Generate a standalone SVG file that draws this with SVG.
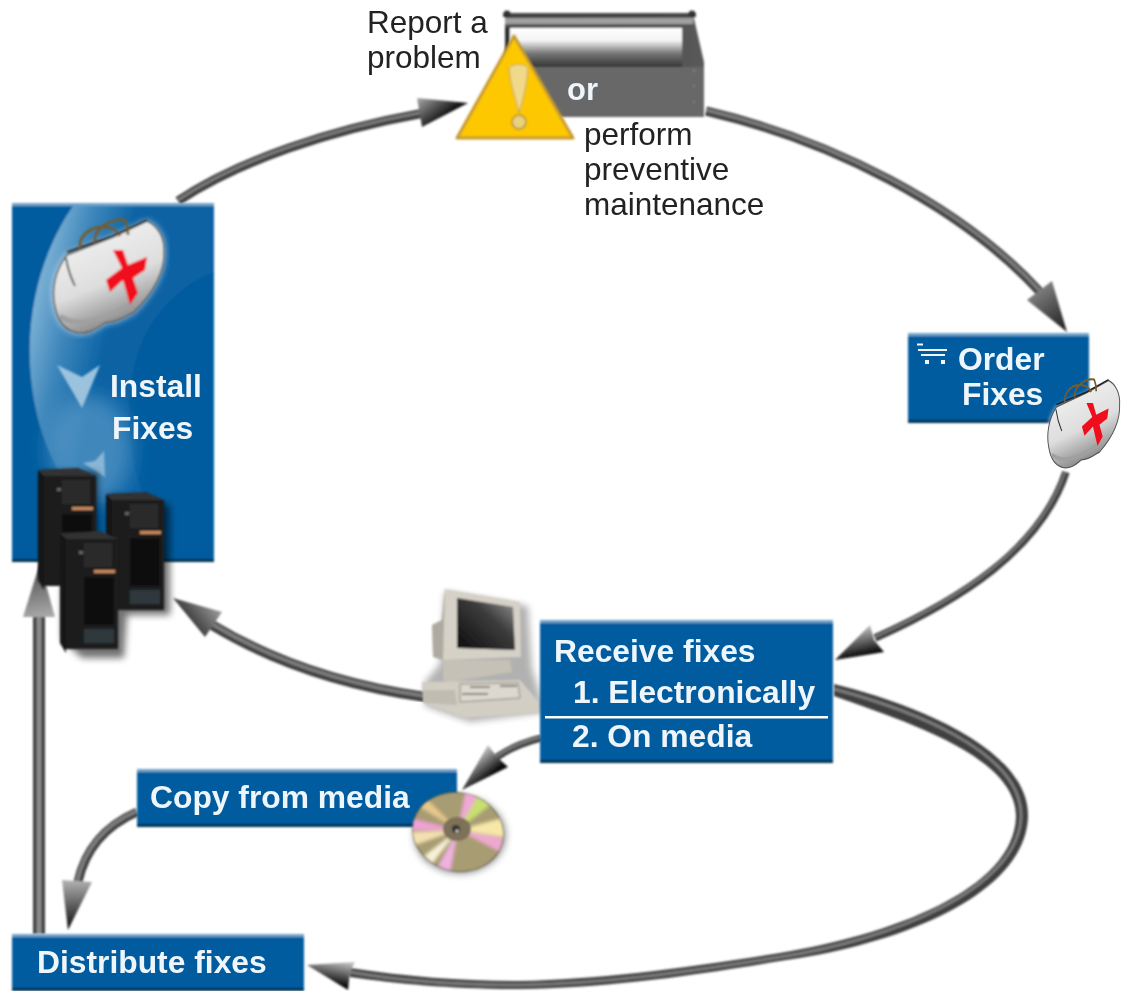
<svg xmlns="http://www.w3.org/2000/svg" xmlns:xlink="http://www.w3.org/1999/xlink" width="1121" height="991" viewBox="0 0 1121 991">
<style>
text{font-family:"Liberation Sans",Arial,sans-serif;font-size:31.5px}
.b{font-weight:bold;fill:#eef6fb;font-size:31.8px}
.k{fill:#222}
.box{fill:#005c9f}
.hi{fill:#6fa3c9}
.lo{fill:#04304f}
.sh{fill:none;stroke:#404040;stroke-linecap:butt}
.li{fill:none;stroke:#7c7c7c;stroke-linecap:butt}
</style>
<defs>
<filter id="soft" x="-5%" y="-5%" width="110%" height="110%"><feGaussianBlur stdDeviation="0.9"/></filter>
<filter id="conn" x="-5%" y="-5%" width="110%" height="110%"><feGaussianBlur stdDeviation="1.2"/></filter>
<filter id="txt" x="-5%" y="-20%" width="110%" height="140%"><feGaussianBlur stdDeviation="0.5"/></filter>
<filter id="blur1" x="-10%" y="-10%" width="120%" height="120%"><feGaussianBlur stdDeviation="1.8"/></filter>
<filter id="blur3" x="-30%" y="-30%" width="160%" height="160%"><feGaussianBlur stdDeviation="3.5"/></filter>
<filter id="blur8" x="-50%" y="-50%" width="200%" height="200%"><feGaussianBlur stdDeviation="10"/></filter>
<clipPath id="installclip"><rect x="12" y="203" width="202" height="359"/></clipPath>
<clipPath id="cdclip"><ellipse cx="458" cy="832" rx="45.500" ry="39" transform="rotate(12 458 832)"/></clipPath>
<linearGradient id="swoosh" gradientUnits="userSpaceOnUse" x1="28" y1="300" x2="112" y2="320"><stop offset="0" stop-color="#86b8d9"/><stop offset="0.5" stop-color="#3d86bb"/><stop offset="1" stop-color="#0a62a4"/></linearGradient>
<linearGradient id="open" x1="0" y1="0" x2="0" y2="1"><stop offset="0" stop-color="#fff"/><stop offset="0.32" stop-color="#f4f4f4"/><stop offset="0.65" stop-color="#777"/><stop offset="1" stop-color="#333"/></linearGradient>
<linearGradient id="post" x1="0" y1="0" x2="1" y2="0"><stop offset="0" stop-color="#2e2e2e"/><stop offset="1" stop-color="#5a5a5a"/></linearGradient>
<linearGradient id="screen" x1="0" y1="1" x2="1" y2="0"><stop offset="0" stop-color="#0c0c0c"/><stop offset="0.6" stop-color="#3c3c3c"/><stop offset="1" stop-color="#9a9a9a"/></linearGradient>
<linearGradient id="bagfill" x1="0.1" y1="0" x2="0.5" y2="1"><stop offset="0" stop-color="#f6f6f6"/><stop offset="0.6" stop-color="#dedede"/><stop offset="1" stop-color="#7e7e7e"/></linearGradient>
<linearGradient id="a1" gradientUnits="userSpaceOnUse" x1="418" y1="98" x2="436" y2="122"><stop offset="0" stop-color="#a8a8a8"/><stop offset="1" stop-color="#161616"/></linearGradient>
<linearGradient id="a2" gradientUnits="userSpaceOnUse" x1="1035" y1="288" x2="1066" y2="332"><stop offset="0" stop-color="#858585"/><stop offset="1" stop-color="#1c1c1c"/></linearGradient>
<linearGradient id="a3" gradientUnits="userSpaceOnUse" x1="870" y1="625" x2="876" y2="652"><stop offset="0" stop-color="#c4c4c4"/><stop offset="1" stop-color="#0c0c0c"/></linearGradient>
<linearGradient id="a4" gradientUnits="userSpaceOnUse" x1="350" y1="961" x2="345" y2="986"><stop offset="0" stop-color="#cfcfcf"/><stop offset="1" stop-color="#0c0c0c"/></linearGradient>
<linearGradient id="a5" gradientUnits="userSpaceOnUse" x1="222" y1="610" x2="190" y2="635"><stop offset="0" stop-color="#a0a0a0"/><stop offset="1" stop-color="#242424"/></linearGradient>
<linearGradient id="a6" gradientUnits="userSpaceOnUse" x1="486" y1="746" x2="502" y2="766"><stop offset="0" stop-color="#cfcfcf"/><stop offset="1" stop-color="#0c0c0c"/></linearGradient>
<linearGradient id="a7" gradientUnits="userSpaceOnUse" x1="70" y1="880" x2="72" y2="925"><stop offset="0" stop-color="#b4b4b4"/><stop offset="1" stop-color="#1c1c1c"/></linearGradient>
<linearGradient id="a8" gradientUnits="userSpaceOnUse" x1="30" y1="563" x2="40" y2="617"><stop offset="0" stop-color="#444"/><stop offset="1" stop-color="#a8a8a8"/></linearGradient>
<path id="bagshape" d="M55,307C51,290 55,270 67,255L113,237L147,221C158,226 165,238 164,252C165,270 155,292 133,313C125,316 120,322 105,323C95,330 88,334 78,333C65,331 58,322 55,307Z"/>
<g id="bag">
<use href="#bagshape" xlink:href="#bagshape" fill="#fff" filter="url(#blur3)" opacity="0.85"/>
<use href="#bagshape" xlink:href="#bagshape" fill="url(#bagfill)" stroke="#555" stroke-width="1.5"/>
<path d="M66,258C68,270 71,278 75,286" fill="none" stroke="#333" stroke-width="1.6"/>
<path d="M60,316C75,328 105,320 128,305" fill="none" stroke="#a0a0a0" stroke-width="5"/>
<path d="M67,252L113,236L147,220" fill="none" stroke="#222" stroke-width="2"/>
<path d="M80,249C78,235 92,226 105,227C115,228 118,232 120,236M95,243C93,228 112,218 125,220C128,226 128,230 128,235" fill="none" stroke="#7a5a28" stroke-width="2.6"/>
<path d="M113,250L123,250L128,265L147,257L145,270L133,278L138,293L130,305L123,280L110,292L106,280L122,268Z" fill="#f0101c"/>
</g>
<g id="tower">
<path d="M0,2L6,8V122L0,112Z" fill="#121212"/>
<path d="M0,2L40,0L58,8H6Z" fill="#333"/>
<rect x="6" y="8" width="52" height="110" fill="#1c1c1c"/>
<rect x="24" y="12" width="28" height="24" fill="#2a2a2a"/>
<rect x="19" y="20" width="4" height="3" fill="#666"/>
<rect x="34" y="39" width="21" height="3" fill="#c98a5e"/>
<rect x="24" y="46" width="30" height="48" fill="#0e0e0e"/>
<rect x="24" y="98" width="30" height="14" fill="#2f383c"/>
</g>
</defs>
<rect width="1121" height="991" fill="#fff"/>

<g id="connectors">
<g id="c1" filter="url(#conn)"><path class="sh" stroke-width="9" d="M178,201C240,160 330,130 424,113"/><path class="li" stroke-width="3" d="M178,200C240,159 330,129 424,112"/><polygon points="468,103 417,98 422,127" fill="url(#a1)"/></g>
<g id="c2" filter="url(#conn)"><path class="sh" stroke-width="9" d="M706,111C830,140 960,205 1040,292"/><path class="li" stroke-width="3.500" d="M706,110C830,139 960,204 1040,291"/><polygon points="1067,332 1027,300 1052,281" fill="url(#a2)"/></g>
<g id="c3" filter="url(#conn)"><path class="sh" stroke-width="7.500" d="M1066,472C1040,550 960,600 875,638"/><path class="li" stroke-width="2" d="M1065,472C1039,549 959,599 875,637"/><polygon points="835,660 870,625 874,640 884,652" fill="url(#a3)"/></g>
<g id="c4" filter="url(#conn)"><path fill="#404040" d="M834,684C900,700 1030,745 1028,817C1025,895 900,945 780,961C680,978 600,988 520,989C450,989 400,984 350,977L350,968C410,977 460,981 520,981C600,979 680,969 780,953C890,935 1014,890 1016,817C1017,755 900,720 834,696Z"/><path class="li" stroke-width="3" d="M834,689C905,708 1023,750 1021,817C1018,890 890,940 780,957C680,973 600,984 520,985C450,985 400,981 350,972"/><polygon points="307,965 355,962 350,972 348,990" fill="url(#a4)"/></g>
<g id="c5" filter="url(#conn)"><path class="sh" stroke-width="10" d="M425,697C340,685 270,660 212,625"/><path class="li" stroke-width="4" d="M425,696C340,684 270,659 212,624"/><polygon points="173,598 222,612 205,637" fill="url(#a5)"/></g>
<g id="c6" filter="url(#conn)"><path class="sh" stroke-width="7" d="M541,738C525,742 510,748 497,757"/><path class="li" stroke-width="2.500" d="M541,737C525,741 510,747 497,756"/><polygon points="462,790 488,745 497,757 508,767" fill="url(#a6)"/></g>
<g id="c7" filter="url(#conn)"><path class="sh" stroke-width="9" d="M137,812C105,826 85,850 78,882"/><path class="li" stroke-width="4" d="M137,811C104,825 84,850 77,882"/><polygon points="68,930 62,880 92,882" fill="url(#a7)"/></g>
<g id="c8" filter="url(#conn)"><rect x="33" y="612" width="12" height="322" fill="#404040"/><rect x="36.500" y="612" width="5" height="322" fill="#8a8a8a"/><polygon points="40,563 23,617 55,617" fill="url(#a8)"/></g>
</g>

<g id="toolbox">
<g filter="url(#soft)">
<path d="M505,14L693,14L704,62V117H527L505,60Z" fill="url(#post)"/>
<rect x="503" y="13" width="193" height="4" fill="#444"/>
<rect x="505" y="18" width="188" height="6" fill="#a0a0a0"/>
<rect x="505" y="24" width="188" height="3" fill="#555"/>
<circle cx="507" cy="14" r="3.500" fill="#333"/>
<circle cx="692" cy="14" r="3.500" fill="#333"/>
<rect x="510" y="28" width="172" height="39" fill="url(#open)"/>
<rect x="527" y="67" width="177" height="50" fill="#676767"/>
<path d="M694,70V115" stroke="#999" stroke-width="1.500" stroke-dasharray="1.500 14"/>
</g>
<text class="b" x="567" y="100" filter="url(#txt)" style="font-size:31px">or</text>
</g>
<g id="warning" filter="url(#soft)">
<path d="M514,36L573,138H457Z" fill="#fdc800" stroke="#c6992e" stroke-width="3" stroke-linejoin="round"/>
<path d="M509,68C513,63 524,63 528,68C527,85 523,100 519,113C516,100 510,85 509,68Z" fill="#f0d98a" stroke="#c9a23a" stroke-width="1"/>
<circle cx="519" cy="122" r="7" fill="#e8d27e" stroke="#b08c30" stroke-width="1.500"/>
</g>

<g id="labels-problem" filter="url(#txt)">
<text class="k" x="367" y="33">Report a</text>
<text class="k" x="367" y="68">problem</text>
<text class="k" x="584" y="145">perform</text>
<text class="k" x="584" y="180">preventive</text>
<text class="k" x="584" y="215">maintenance</text>
</g>

<g id="install">
<g filter="url(#soft)">
<rect class="box" x="12" y="203" width="202" height="359"/>
<g clip-path="url(#installclip)">
<path d="M75,203C42,250 20,320 34,400C42,445 60,480 85,505L145,500C125,450 122,385 145,335C160,305 190,280 214,272V203Z" fill="url(#swoosh)"/>
<ellipse cx="90" cy="450" rx="42" ry="55" fill="#6ea8d0" opacity="0.55" filter="url(#blur8)"/>
</g>
<rect class="hi" x="12" y="203" width="202" height="3"/>
<rect class="lo" x="12" y="559" width="202" height="3"/>
</g>
<use href="#bag" xlink:href="#bag" filter="url(#soft)"/>
<polygon points="57,365 82,377 100,365 82,408" fill="#9cc3de" filter="url(#soft)"/>
<polygon points="83,463 95,461 104,451 105,477" fill="#8ab6d6" filter="url(#soft)"/>
<g filter="url(#txt)"><text class="b" x="110" y="397">Install</text><text class="b" x="112" y="439">Fixes</text></g>
</g>

<g id="servers">
<path d="M42,472H98V585H62V640L82,658H124L127,615H170V505L110,495V540H60V570H42Z" fill="#000" opacity="0.55" filter="url(#blur3)"/>
<use href="#tower" xlink:href="#tower" transform="translate(38,468)" filter="url(#soft)"/>
<use href="#tower" xlink:href="#tower" transform="translate(106,492)" filter="url(#soft)"/>
<use href="#tower" xlink:href="#tower" transform="translate(60,531)" filter="url(#soft)"/>
</g>

<g id="order">
<g filter="url(#soft)">
<rect class="box" x="908" y="333" width="181" height="90"/>
<rect class="hi" x="908" y="333" width="181" height="3"/>
<rect class="lo" x="908" y="420" width="181" height="3"/>
</g>
<g filter="url(#txt)">
<path d="M917,344.500H923M918,350H947M921,355H945" fill="none" stroke="#f0f6fa" stroke-width="2"/>
<rect x="925" y="360" width="4" height="4" fill="#f0f6fa"/><rect x="941" y="360" width="4" height="4" fill="#f0f6fa"/>
<text class="b" x="958" y="370">Order</text><text class="b" x="962" y="405">Fixes</text></g>
<use href="#bag" xlink:href="#bag" transform="translate(1013,208) scale(0.65,0.78)" filter="url(#soft)"/>
</g>

<g id="computer">
<path d="M445,592L528,606L532,668L545,712L470,722L425,706L425,682L440,664Z" fill="#000" opacity="0.3" filter="url(#blur3)"/>
<g filter="url(#soft)">
<path d="M443,660H510L512,672L450,682L443,680Z" fill="#c6c1b6"/>
<path d="M422,682L520,680L540,703V713L463,718L423,703Z" fill="#d2cec4"/>
<path d="M423,690L455,690L457,705L423,703Z" fill="#c0bcb2"/>
<path d="M460,684L518,683L520,698L460,702Z" fill="#dcd8cf" stroke="#8d897f" stroke-width="1"/>
<path d="M470,687H490M500,686H517M462,694H488" stroke="#666" stroke-width="1.500" fill="none"/>
<path d="M445,589L520,602L521,657L443,660L433,657L432,625L442,620Z" fill="#d6d1c7"/>
<path d="M432,625L442,620L445,589L443,660L433,657Z" fill="#aeaaa0"/>
<path d="M457,598L513,607L515,650L457,648Z" fill="url(#screen)"/>
</g>
</g>

<g id="receive">
<g filter="url(#soft)">
<rect class="box" x="540" y="620" width="293" height="143"/>
<rect class="hi" x="540" y="620" width="293" height="3"/>
<rect class="lo" x="540" y="760" width="293" height="3"/>
</g>
<g filter="url(#txt)">
<rect x="545" y="716" width="283" height="2.500" fill="#f8fbfd"/>
<text class="b" x="554" y="662">Receive fixes</text>
<text class="b" x="573" y="703">1. Electronically</text>
<text class="b" x="572" y="747">2. On media</text>
</g>
</g>

<g id="copy">
<g filter="url(#soft)">
<rect class="box" x="137" y="769" width="320" height="58"/>
<rect class="hi" x="137" y="769" width="320" height="3"/>
<rect class="lo" x="137" y="824" width="320" height="3"/>
</g>
<text class="b" x="150" y="808" filter="url(#txt)">Copy from media</text>
</g>

<g id="cd">
<ellipse cx="460" cy="835" rx="46" ry="39" fill="#333" opacity="0.5" filter="url(#blur3)"/>
<g filter="url(#soft)">
<ellipse cx="458" cy="832" rx="45.500" ry="39" transform="rotate(12 458 832)" fill="#a89c72" stroke="#6e6547" stroke-width="1"/>
<g clip-path="url(#cdclip)"><g filter="url(#blur1)">
<polygon points="458,830 510,816 510,838" fill="#f7e8a8"/>
<polygon points="458,830 466,788 480,792" fill="#f0a8d8"/>
<polygon points="458,830 480,792 494,802" fill="#c8e070"/>
<polygon points="458,830 504,838 500,852" fill="#efa8d0"/>
<polygon points="458,830 410,818 410,830" fill="#f0a0d8"/>
<polygon points="458,830 410,832 412,846" fill="#f4e0b0"/>
<polygon points="458,830 418,806 428,800" fill="#e8c88c"/>
<polygon points="458,830 436,870 450,874" fill="#f0b0e0"/>
<polygon points="458,830 424,856 432,864" fill="#f8f2d8"/>
</g></g>
<ellipse cx="457" cy="829" rx="14" ry="12" fill="#7d7158"/>
<circle cx="456" cy="829" r="4" fill="#333"/>
<circle cx="457" cy="831" r="1.500" fill="#ddd"/>
</g>
</g>

<g id="distribute">
<g filter="url(#soft)">
<rect class="box" x="12" y="934" width="292" height="57"/>
<rect class="hi" x="12" y="934" width="292" height="3"/>
<rect class="lo" x="12" y="988" width="292" height="3"/>
</g>
<text class="b" x="37" y="973" filter="url(#txt)">Distribute fixes</text>
</g>
</svg>
